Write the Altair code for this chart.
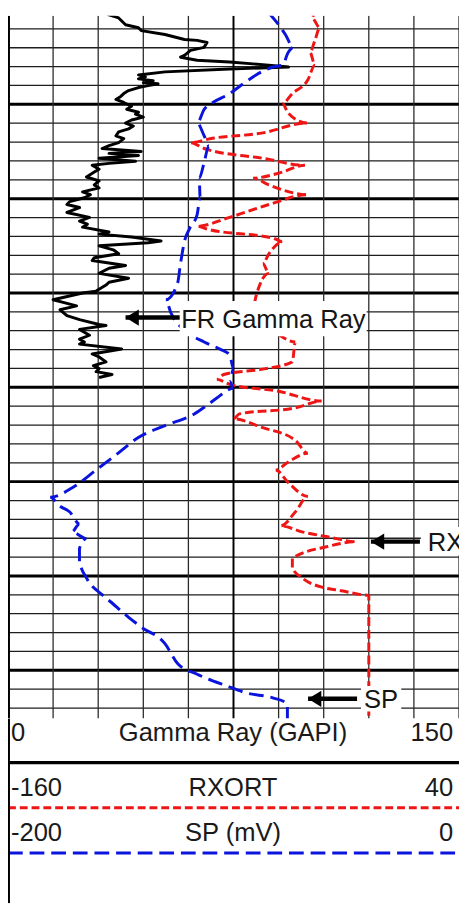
import altair as alt
import pandas as pd

# ---------------- data ----------------
# Gamma ray (GAPI, 0-150)
gr_depth = [999.0, 1002.6, 1004.2, 1007.8, 1009.4, 1010.9, 1013.0, 1015.6, 1016.1, 1017.2,
            1019.8, 1021.4, 1024.0, 1025.0, 1026.6, 1027.6, 1029.2, 1030.2, 1031.3, 1032.8,
            1034.4, 1035.4, 1036.5, 1037.5, 1038.5, 1039.1, 1040.1, 1041.1, 1042.7, 1044.3,
            1045.8, 1047.4, 1049.0, 1051.0, 1052.6, 1054.2, 1055.2, 1056.8, 1058.3, 1059.9,
            1061.5, 1063.0, 1064.6, 1066.7, 1068.2, 1070.3, 1071.9, 1073.4, 1075.0, 1076.0,
            1077.1, 1078.6, 1080.2, 1081.3, 1082.3, 1084.4, 1085.9, 1088.5, 1090.6, 1092.7,
            1094.3, 1096.4, 1097.9, 1099.5, 1101.6, 1103.1, 1104.7, 1107.3, 1109.9, 1111.9,
            1113.5, 1115.1, 1117.7, 1118.8, 1120.3, 1122.4, 1123.4, 1125.0, 1127.1, 1129.2,
            1131.3, 1132.8, 1135.4, 1136.9, 1139.6, 1142.2, 1144.3, 1145.8, 1149.0, 1150.0,
            1153.6, 1155.2, 1156.8, 1158.9, 1162.0, 1164.1, 1166.7, 1167.2, 1169.3, 1172.4,
            1174.5, 1176.0, 1177.1, 1179.7, 1182.3, 1183.9, 1186.5, 1188.5, 1190.1, 1191.7,
            1193.2, 1194.8]
gr_value = [30.3, 33.6, 36.8, 39.1, 43.4, 44.3, 52.2, 58.7, 62.9, 66.2,
            65.2, 60.7, 58.7, 57.4, 62.9, 73.7, 86.7, 93.3, 73.7, 52.2,
            43.4, 45.7, 43.4, 48.3, 45.0, 49.9, 46.6, 43.4, 40.1, 38.5,
            37.5, 35.9, 38.5, 41.1, 39.5, 43.4, 42.4, 45.0, 41.1, 39.1,
            41.7, 40.1, 36.8, 35.9, 38.5, 36.8, 33.6, 31.3, 44.3, 33.6,
            43.4, 30.3, 42.4, 33.6, 28.0, 30.3, 28.7, 26.1, 30.3, 28.7,
            30.3, 24.8, 27.4, 25.4, 20.5, 19.6, 23.8, 19.6, 27.1, 23.8,
            26.4, 24.8, 33.6, 30.3, 41.1, 50.9, 46.6, 30.3, 35.0, 36.8,
            28.7, 28.0, 39.1, 33.6, 30.3, 40.1, 33.6, 32.6, 29.3, 24.8,
            15.0, 19.0, 22.8, 17.3, 19.6, 23.8, 30.3, 32.6, 23.8, 27.1,
            23.8, 25.4, 23.8, 37.8, 28.0, 30.3, 32.6, 28.4, 30.3, 29.3,
            34.6, 30.3]

# SP (mV, -200-0)
sp_depth = [1001.6, 1007.8, 1013.0, 1019.8, 1022.4, 1029.2, 1030.2, 1034.4, 1039.1, 1044.3,
            1050.0, 1052.6, 1059.9, 1066.7, 1071.9, 1080.7, 1089.1, 1099.5, 1108.3, 1116.1,
            1122.4, 1134.4, 1144.8, 1153.6, 1160.4, 1170.8, 1176.0, 1179.7, 1182.8, 1190.1,
            1196.9, 1200.5, 1205.7, 1208.3, 1214.1, 1220.3, 1226.6, 1235.9, 1243.8, 1253.1,
            1258.3, 1263.0, 1266.1, 1272.4, 1276.6, 1280.2, 1285.4, 1292.2, 1301.0, 1309.9,
            1313.0, 1321.9, 1327.1, 1335.9, 1346.4, 1352.1, 1358.3, 1362.0, 1364.6, 1367.7,
            1371.4, 1375.5]
sp_value = [-84.3, -80.0, -77.0, -73.5, -75.7, -78.3, -82.6, -90.0, -95.7, -101.7,
            -110.4, -113.0, -116.1, -113.0, -110.9, -113.0, -115.2, -114.8, -116.1, -119.6,
            -121.7, -123.5, -124.8, -130.0, -127.8, -120.4, -113.0, -106.1, -101.7, -100.0,
            -101.7, -100.0, -107.4, -110.4, -117.4, -130.4, -142.2, -152.2, -160.9, -171.3,
            -181.3, -177.0, -172.6, -168.3, -171.7, -165.2, -168.3, -168.3, -165.2, -158.3,
            -155.2, -146.5, -140.9, -130.4, -124.8, -116.1, -103.0, -94.3, -82.6, -76.1,
            -76.1, -76.1]

# RXORT (-160-40)
rx_depth = [999.0, 1004.2, 1009.4, 1016.1, 1022.4, 1029.2, 1037.0, 1044.3, 1049.5, 1054.7,
            1059.9, 1065.1, 1068.2, 1070.3, 1073.4, 1078.6, 1082.3, 1086.5, 1089.1, 1092.7,
            1097.9, 1103.1, 1109.9, 1114.6, 1116.1, 1121.4, 1122.9, 1129.2, 1134.4, 1139.6,
            1151.6, 1157.8, 1165.6, 1171.9, 1176.0, 1186.5, 1190.1, 1193.2, 1195.8, 1198.4,
            1202.1, 1207.3, 1210.9, 1214.1, 1216.7, 1221.4, 1228.1, 1234.9, 1239.6, 1243.8,
            1250.5, 1257.8, 1266.1, 1273.4, 1276.6, 1279.2, 1281.8, 1284.4, 1290.6, 1295.8,
            1301.0, 1306.3, 1307.8, 1309.9, 1310.4, 1375.5]
rx_value = [-23.9, -25.2, -21.7, -23.9, -26.1, -23.9, -27.0, -33.9, -38.3, -35.7,
            -27.4, -47.0, -70.4, -79.1, -73.0, -47.0, -28.3, -40.0, -51.3, -44.3,
            -27.0, -44.3, -61.7, -76.1, -71.7, -41.3, -38.3, -44.3, -47.0, -44.3,
            -50.0, -51.3, -45.7, -40.0, -32.6, -33.9, -45.7, -64.3, -67.4, -61.7,
            -40.0, -20.9, -32.6, -57.4, -60.0, -47.0, -32.6, -27.0, -35.7, -41.3,
            -35.7, -27.0, -32.6, -39.1, -29.6, -18.3, -5.7, -18.3, -33.9, -33.9,
            -29.6, -19.6, -12.2, -3.5, 0.0, 0.0]

# depth window and grid ticks
depth_top = 1003.1
depth_bottom = 1375.5
grid_depths = list(range(1010, 1371, 10))
major_depths = [1050, 1100, 1150, 1200, 1250, 1300, 1350]
grid_gr = [0, 15, 30, 45, 60, 75, 90, 105, 120, 135, 150]

# curve labels (arrow tip / tail on the GR scale, depth of arrow)
ann_label = ["FR Gamma Ray", "RXORT", "SP"]
ann_tip = [39.1, 120.7, 99.8]
ann_tail = [57.1, 137.0, 116.1]
ann_depth = [1163.0, 1281.8, 1365.1]
ann_text_gr = [57.6, 139.6, 118.4]
ann_text_depth = [1168.5, 1286.8, 1370.2]
box_x1 = [57.1, 137.3, 117.4]
box_x2 = [119.3, 150.0, 130.8]
box_d1 = [1154.2, 1274.0, 1358.3]
box_d2 = [1172.9, 1289.1, 1371.9]

# header
hdr_names = ["Gamma Ray (GAPI)", "RXORT", "SP (mV)"]
hdr_min = ["0", "-160", "-200"]
hdr_max = ["150", "40", "0"]

# ---------------- chart ----------------
W = 459
H = 715
H2 = 188
FONT = "Liberation Sans"
RED = "#ee1515"
BLUE = "#0a14dc"

ysc = alt.Scale(domain=[depth_top, depth_bottom], reverse=True, nice=False, zero=False)
grsc = alt.Scale(domain=[0, 150], nice=False, zero=False)
rxsc = alt.Scale(domain=[-160, 40], nice=False, zero=False)
spsc = alt.Scale(domain=[-200, 0], nice=False, zero=False)

minor_df = pd.DataFrame({"depth": [d for d in grid_depths if d not in major_depths]})
major_df = pd.DataFrame({"depth": major_depths})
vminor_df = pd.DataFrame({"gr": [g for g in grid_gr if g not in (0, 75)]})
vcenter_df = pd.DataFrame({"gr": [75]})
vborder_df = pd.DataFrame({"gr": [0]})

hminor = alt.Chart(minor_df).mark_rule(color="#1e1e1e", strokeWidth=1.3, clip=True).encode(
    y=alt.Y("depth:Q", scale=ysc, axis=None))
hmajor = alt.Chart(major_df).mark_rule(color="#000000", strokeWidth=3, clip=True).encode(
    y=alt.Y("depth:Q", scale=ysc, axis=None))
vminor = alt.Chart(vminor_df).mark_rule(color="#2a2a2a", strokeWidth=1.3, clip=True).encode(
    x=alt.X("gr:Q", scale=grsc, axis=None))
vcenter = alt.Chart(vcenter_df).mark_rule(color="#000000", strokeWidth=2, clip=True).encode(
    x=alt.X("gr:Q", scale=grsc, axis=None))
vborder = alt.Chart(vborder_df).mark_rule(color="#000000", strokeWidth=4, clip=True).encode(
    x=alt.X("gr:Q", scale=grsc, axis=None))

gr_df = pd.DataFrame({"depth": gr_depth, "val": gr_value})
rx_df = pd.DataFrame({"depth": rx_depth, "val": rx_value})
sp_df = pd.DataFrame({"depth": sp_depth, "val": sp_value})

gr_line = alt.Chart(gr_df).mark_line(color="#000000", strokeWidth=3, clip=True,
                                     strokeJoin="round").encode(
    x=alt.X("val:Q", scale=grsc, axis=None),
    y=alt.Y("depth:Q", scale=ysc, axis=None),
    order="depth:Q")
rx_line = alt.Chart(rx_df).mark_line(color=RED, strokeWidth=3, strokeDash=[9, 4], clip=True,
                                     interpolate="monotone").encode(
    x=alt.X("val:Q", scale=rxsc, axis=None),
    y=alt.Y("depth:Q", scale=ysc, axis=None),
    order="depth:Q")
sp_line = alt.Chart(sp_df).mark_line(color=BLUE, strokeWidth=3, strokeDash=[15, 7], clip=True,
                                     interpolate="monotone").encode(
    x=alt.X("val:Q", scale=spsc, axis=None),
    y=alt.Y("depth:Q", scale=ysc, axis=None),
    order="depth:Q")

ann_df = pd.DataFrame({
    "label": ann_label, "tip": ann_tip, "tail": ann_tail, "depth": ann_depth,
    "tx": ann_text_gr, "td": ann_text_depth,
    "bx1": box_x1, "bx2": box_x2, "bd1": box_d1, "bd2": box_d2,
})

boxes = alt.Chart(ann_df).mark_rect(color="white", clip=True).encode(
    x=alt.X("bx1:Q", scale=grsc, axis=None), x2="bx2:Q",
    y=alt.Y("bd1:Q", scale=ysc, axis=None), y2="bd2:Q")
shafts = alt.Chart(ann_df).mark_rule(color="#000000", strokeWidth=4.5, clip=True).encode(
    x=alt.X("tip:Q", scale=grsc, axis=None), x2="tail:Q",
    y=alt.Y("depth:Q", scale=ysc, axis=None))
heads = alt.Chart(ann_df).mark_point(shape="M0,0L1.8,-1.1L1.8,1.1Z", filled=True, size=225,
                                     color="#000000", opacity=1, strokeWidth=0, clip=True).encode(
    x=alt.X("tip:Q", scale=grsc, axis=None),
    y=alt.Y("depth:Q", scale=ysc, axis=None))
labels = alt.Chart(ann_df).mark_text(align="left", baseline="alphabetic", fontSize=26, font=FONT,
                                     color="#151515", clip=True).encode(
    x=alt.X("tx:Q", scale=grsc, axis=None),
    y=alt.Y("td:Q", scale=ysc, axis=None),
    text="label:N")

plot = alt.layer(
    hminor, hmajor, vminor, vcenter, vborder,
    gr_line, rx_line, sp_line,
    boxes, shafts, heads, labels,
).resolve_scale(x="independent").properties(width=W, height=H)

# ---------------- header (track scales) ----------------
one = pd.DataFrame({"k": [0]})
hdr_layers = []
text_base = [23, 79, 125]
line_y = [45, 91, 137]
line_style = [dict(color="#000000", strokeWidth=3.5),
              dict(color=RED, strokeWidth=3, strokeDash=[8, 4]),
              dict(color=BLUE, strokeWidth=3, strokeDash=[15, 7])]
for i in range(3):
    tdf = pd.DataFrame({"lo": [hdr_min[i]], "name": [hdr_names[i]], "hi": [hdr_max[i]]})
    hdr_layers.append(alt.Chart(tdf).mark_text(align="left", baseline="alphabetic", fontSize=26,
                                               font=FONT, color="#1a1a1a").encode(
        x=alt.value(3), y=alt.value(text_base[i]), text="lo:N"))
    hdr_layers.append(alt.Chart(tdf).mark_text(align="center", baseline="alphabetic", fontSize=26,
                                               font=FONT, color="#1a1a1a").encode(
        x=alt.value(229), y=alt.value(text_base[i]), text="name:N"))
    hdr_layers.append(alt.Chart(tdf).mark_text(align="right", baseline="alphabetic", fontSize=26,
                                               font=FONT, color="#1a1a1a").encode(
        x=alt.value(453), y=alt.value(text_base[i]), text="hi:N"))
    hdr_layers.append(alt.Chart(one).mark_rule(clip=True, **line_style[i]).encode(
        x=alt.value(0), x2=alt.value(W), y=alt.value(line_y[i])))
hdr_layers.append(alt.Chart(one).mark_rule(color="#000000", strokeWidth=4, clip=True).encode(
    x=alt.value(0), y=alt.value(0), y2=alt.value(H2)))

header = alt.layer(*hdr_layers).properties(width=W, height=H2)

chart = alt.vconcat(plot, header, spacing=0).properties(padding=0).configure_view(stroke=None)

chart.save("out.html", embed_options={"renderer": "svg", "actions": False})
